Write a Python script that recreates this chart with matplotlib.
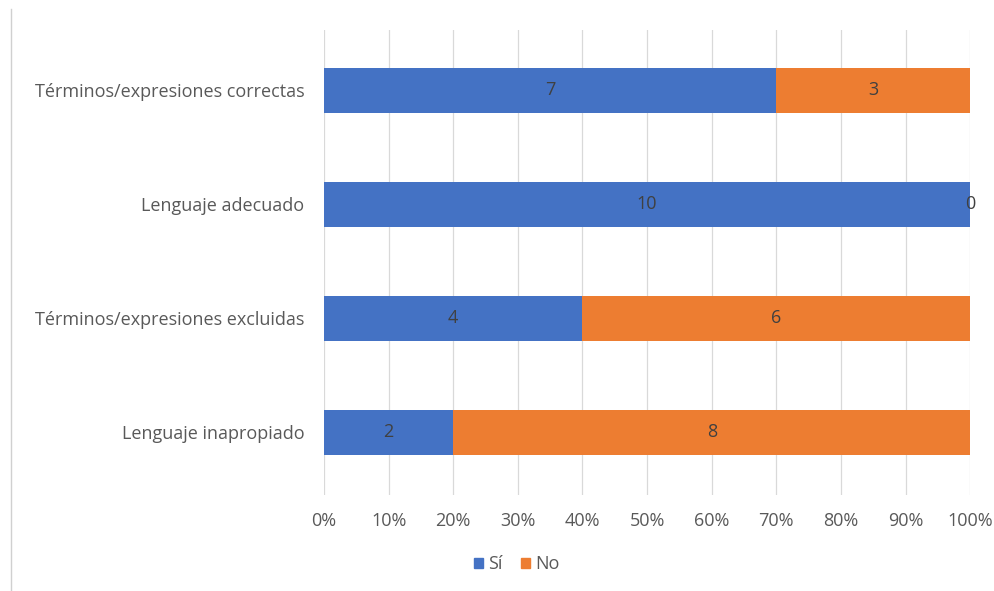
import numpy as np
import matplotlib.pyplot as plt
from matplotlib.lines import Line2D

plt.rc('font', family=['Open Sans', 'DejaVu Sans'], size=13)

categorias = ['Lenguaje inapropiado', 'Términos/expresiones excluidas',
              'Lenguaje adecuado', 'Términos/expresiones correctas']
si = [2, 4, 10, 7]
no = [8, 6, 0, 3]
serie_nombres = ['Sí', 'No']
colores = ['#4472C4', '#ED7D31']
ticks_x = [0, 10, 20, 30, 40, 50, 60, 70, 80, 90, 100]

gris_texto = '#595959'

si_arr = np.array(si, dtype=float)
no_arr = np.array(no, dtype=float)
tot = si_arr + no_arr
si_pct = si_arr / tot * 100
no_pct = no_arr / tot * 100

fig = plt.figure(figsize=(9.94, 5.91), dpi=100)
ax = fig.add_axes([0.326, 0.1624, 0.650, 0.7868])

y = np.arange(len(categorias))
ax.barh(y, si_pct, height=0.4, color=colores[0], label=serie_nombres[0], zorder=2)
ax.barh(y, no_pct, left=si_pct, height=0.4, color=colores[1], label=serie_nombres[1], zorder=2)

for i in range(len(categorias)):
    ax.text(si_pct[i] / 2, y[i], str(si[i]), ha='center', va='center', color='#404040', zorder=3)
    ax.text(si_pct[i] + no_pct[i] / 2, y[i], str(no[i]), ha='center', va='center', color='#404040', zorder=3)

ax.set_xlim(0, 100)
ax.set_ylim(-0.55, 3.53)
ax.set_xticks(ticks_x)
ax.set_xticklabels([f'{t}%' for t in ticks_x])
ax.set_yticks(y)
ax.set_yticklabels(categorias)
ax.tick_params(axis='both', length=0, colors=gris_texto, labelsize=13)
ax.tick_params(axis='x', pad=12)
ax.tick_params(axis='y', pad=14)
ax.xaxis.grid(True, color='#D9D9D9', lw=0.9, zorder=0)
for s in ax.spines.values():
    s.set_visible(False)

handles = [plt.Rectangle((0, 0), 1, 1, color=c) for c in colores]
fig.legend(handles, serie_nombres, loc='center', bbox_to_anchor=(0.52, 0.045), ncol=2, frameon=False,
           handlelength=0.5, handleheight=0.5, handletextpad=0.3, columnspacing=1.0,
           labelcolor=gris_texto, fontsize=13)

fig.add_artist(Line2D([0.011, 0.011], [0.0, 0.985], transform=fig.transFigure, color='#D0D0D0', lw=1))

fig.savefig('out.png', dpi=100)
